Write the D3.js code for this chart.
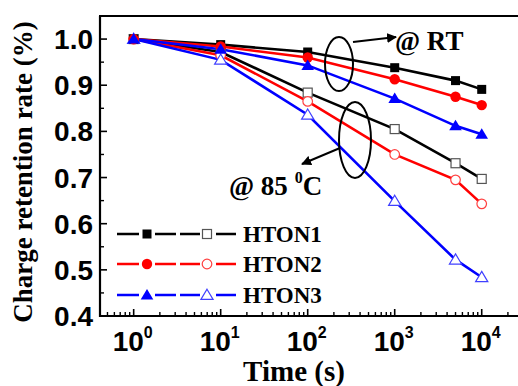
<!DOCTYPE html>
<html>
<head>
<meta charset="utf-8">
<script src="https://cdn.jsdelivr.net/npm/d3@7"></script>
<style>
  body { margin: 0; background: #fff; }
  svg { display: block; }
  .tick-label { font-family: "Liberation Sans", Arial, sans-serif; font-weight: bold; }
  .serif { font-family: "Liberation Serif", "Times New Roman", serif; font-weight: bold; }
</style>
</head>
<body>
<svg id="chart"></svg>
<script>
const width = 518;
const height = 386;

// time points (s)
const times = [1, 10, 100, 1000, 5000, 10000];

// room temperature series (filled markers)
const rtHTON1 = [1.0, 0.988, 0.972, 0.938, 0.910, 0.891];
const rtHTON2 = [1.0, 0.984, 0.960, 0.913, 0.875, 0.857];
const rtHTON3 = [1.0, 0.978, 0.943, 0.871, 0.812, 0.794];

// 85 C series (open markers)
const htHTON1 = [1.0, 0.972, 0.884, 0.805, 0.731, 0.697];
const htHTON2 = [1.0, 0.965, 0.865, 0.750, 0.695, 0.643];
const htHTON3 = [1.0, 0.955, 0.836, 0.649, 0.522, 0.484];

const seriesNames = ["HTON1", "HTON2", "HTON3"];
const yTicks = [0.4, 0.5, 0.6, 0.7, 0.8, 0.9, 1.0];
const xTicks = [1, 10, 100, 1000, 10000];

const colors = ["#000000", "#ff0000", "#0000ff"];
const openColors = ["#555555", "#ff4040", "#4040ff"];
const shapes = ["square", "circle", "triangle"];

const margin = { left: 100, top: 16, bottom: 316, right: 518 };

const svg = d3.select("#chart")
    .attr("width", width)
    .attr("height", height);

const x = d3.scaleLog()
    .domain([Math.pow(10, -0.387), Math.pow(10, 4.417)])
    .range([margin.left, margin.right]);

const y = d3.scaleLinear()
    .domain([0.4, 1.05])
    .range([margin.bottom, margin.top]);

// marker drawing
function marker(g, shape, cx, cy, filled, color) {
  if (shape === "square") {
    g.append("rect")
      .attr("x", cx - 4.5).attr("y", cy - 4.5)
      .attr("width", 9).attr("height", 9)
      .attr("fill", filled ? color : "#fff")
      .attr("stroke", color).attr("stroke-width", filled ? 0 : 1.2);
  } else if (shape === "circle") {
    g.append("circle")
      .attr("cx", cx).attr("cy", cy).attr("r", filled ? 5.2 : 4.8)
      .attr("fill", filled ? color : "#fff")
      .attr("stroke", color).attr("stroke-width", filled ? 0 : 1.2);
  } else {
    const s = filled ? 6 : 5.8;
    g.append("path")
      .attr("d", `M${cx},${cy - s}L${cx + s * 1.05},${cy + s * 0.75}L${cx - s * 1.05},${cy + s * 0.75}Z`)
      .attr("fill", filled ? color : "#fff")
      .attr("stroke", color).attr("stroke-width", filled ? 0 : 1.2);
  }
}

const line = d3.line()
    .x(d => x(d[0]))
    .y(d => y(d[1]));

const rtSeries = [rtHTON1, rtHTON2, rtHTON3];
const htSeries = [htHTON1, htHTON2, htHTON3];

const plot = svg.append("g");

// lines first, then markers
[htSeries, rtSeries].forEach(group => {
  group.forEach((vals, i) => {
    plot.append("path")
      .datum(times.map((t, k) => [t, vals[k]]))
      .attr("d", line)
      .attr("fill", "none")
      .attr("stroke", colors[i])
      .attr("stroke-width", 2.6);
  });
});
htSeries.forEach((vals, i) => {
  times.forEach((t, k) => marker(plot, shapes[i], x(t), y(vals[k]), false, openColors[i]));
});
rtSeries.forEach((vals, i) => {
  times.forEach((t, k) => marker(plot, shapes[i], x(t), y(vals[k]), true, colors[i]));
});

// axes frame
const axes = svg.append("g");
axes.append("line")
  .attr("x1", margin.left).attr("x2", margin.left)
  .attr("y1", margin.top).attr("y2", margin.bottom + 1)
  .attr("stroke", "#000").attr("stroke-width", 2.2);
axes.append("line")
  .attr("x1", margin.left - 1).attr("x2", width)
  .attr("y1", margin.bottom).attr("y2", margin.bottom)
  .attr("stroke", "#000").attr("stroke-width", 2.2);
axes.append("line")
  .attr("x1", margin.left - 1).attr("x2", width)
  .attr("y1", margin.top).attr("y2", margin.top)
  .attr("stroke", "#000").attr("stroke-width", 2.2);

// y ticks (inward)
const yMinor = d3.range(0.45, 1.05, 0.1);
yTicks.forEach(v => {
  axes.append("line")
    .attr("x1", margin.left).attr("x2", margin.left + 7)
    .attr("y1", y(v)).attr("y2", y(v))
    .attr("stroke", "#000").attr("stroke-width", 1.6);
  axes.append("text")
    .attr("class", "tick-label")
    .attr("x", 93).attr("y", y(v))
    .attr("dy", "0.36em")
    .attr("text-anchor", "end")
    .attr("font-size", 28)
    .text(v.toFixed(1));
});
yMinor.forEach(v => {
  axes.append("line")
    .attr("x1", margin.left).attr("x2", margin.left + 4)
    .attr("y1", y(v)).attr("y2", y(v))
    .attr("stroke", "#000").attr("stroke-width", 1.4);
});

// x ticks (inward), log minor ticks
const [d0, d1] = x.domain();
for (let e = -1; e <= 4; e++) {
  for (let m = 1; m <= 9; m++) {
    const v = m * Math.pow(10, e);
    if (v < d0 || v > d1) continue;
    const major = m === 1;
    axes.append("line")
      .attr("x1", x(v)).attr("x2", x(v))
      .attr("y1", margin.bottom).attr("y2", margin.bottom - (major ? 7 : 4))
      .attr("stroke", "#000").attr("stroke-width", major ? 1.6 : 1.4);
  }
}
xTicks.forEach(v => {
  const t = axes.append("text")
    .attr("class", "tick-label")
    .attr("x", x(v) - 1).attr("y", 351)
    .attr("text-anchor", "middle")
    .attr("font-size", 28);
  t.append("tspan").text("10");
  t.append("tspan").attr("font-size", 16).attr("dy", -13).text(Math.round(Math.log10(v)));
});

// axis titles
svg.append("text")
  .attr("class", "serif")
  .attr("transform", `translate(32,${(margin.top + margin.bottom) / 2 + 6}) rotate(-90)`)
  .attr("text-anchor", "middle")
  .attr("font-size", 27)
  .text("Charge retention rate (%)");

svg.append("text")
  .attr("class", "serif")
  .attr("x", 294).attr("y", 381)
  .attr("text-anchor", "middle")
  .attr("font-size", 29)
  .text("Time (s)");

// legend
const legendY = [234, 264, 295];
seriesNames.forEach((name, i) => {
  const g = svg.append("g");
  g.append("line")
    .attr("x1", 117).attr("x2", 236)
    .attr("y1", legendY[i]).attr("y2", legendY[i])
    .attr("stroke", colors[i]).attr("stroke-width", 2.6)
    .attr("stroke-dasharray", "22,8,0,8,21,4,20,8,0,8,22");
  marker(g, shapes[i], 147, legendY[i], true, colors[i]);
  marker(g, shapes[i], 207, legendY[i], false, openColors[i]);
  g.append("text")
    .attr("class", "serif")
    .attr("x", 243).attr("y", legendY[i] + 8)
    .attr("font-size", 23)
    .text(name);
});

// annotations
const ann = svg.append("g");
ann.append("ellipse")
  .attr("cx", 339).attr("cy", 64).attr("rx", 14).attr("ry", 27)
  .attr("fill", "none").attr("stroke", "#000").attr("stroke-width", 2);
ann.append("ellipse")
  .attr("cx", 355).attr("cy", 140).attr("rx", 16).attr("ry", 38)
  .attr("fill", "none").attr("stroke", "#000").attr("stroke-width", 2);

svg.append("defs").append("marker")
  .attr("id", "arrow")
  .attr("viewBox", "0 0 10 10")
  .attr("refX", 9).attr("refY", 5)
  .attr("markerWidth", 5).attr("markerHeight", 5)
  .attr("orient", "auto")
  .append("path")
  .attr("d", "M0,0L10,5L0,10Z")
  .attr("fill", "#000");

ann.append("line")
  .attr("x1", 353).attr("y1", 42).attr("x2", 396).attr("y2", 37)
  .attr("stroke", "#000").attr("stroke-width", 2)
  .attr("marker-end", "url(#arrow)");
ann.append("line")
  .attr("x1", 340).attr("y1", 148).attr("x2", 302).attr("y2", 164)
  .attr("stroke", "#000").attr("stroke-width", 2)
  .attr("marker-end", "url(#arrow)");

ann.append("text")
  .attr("class", "serif")
  .attr("x", 395).attr("y", 50)
  .attr("font-size", 27)
  .text("@ RT");

const t85 = ann.append("text")
  .attr("class", "serif")
  .attr("x", 229).attr("y", 195)
  .attr("font-size", 27);
t85.append("tspan").text("@ 85 ");
t85.append("tspan").attr("font-size", 16).attr("dy", -12).text("0");
t85.append("tspan").attr("dy", 12).text("C");
</script>
</body>
</html>
